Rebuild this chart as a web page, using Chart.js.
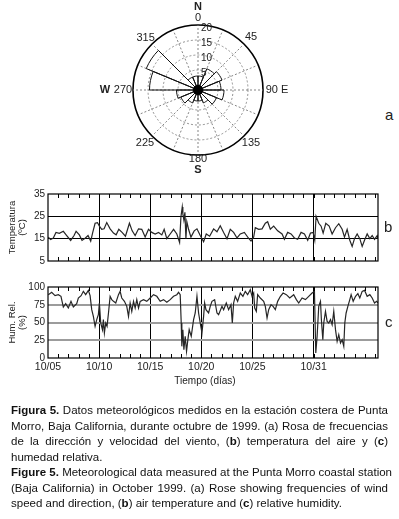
<!DOCTYPE html>
<html>
<head>
<meta charset="utf-8">
<script src="https://cdn.jsdelivr.net/npm/chart.js@4.4.0/dist/chart.umd.min.js"></script>
<style>
  html, body { margin: 0; padding: 0; background: #fff; }
  body { width: 399px; height: 519px; position: relative; overflow: hidden; font-family: 'Liberation Sans', Arial, sans-serif; color: #222; }
  canvas { position: absolute; }
  #rose { left: 90px; top: 0; }
  #temp { left: 0; top: 185px; }
  #hum { left: 0; top: 278px; }
  .tag { position: absolute; font-size: 15px; line-height: 15px; color: #222; }
  #xtitle { position: absolute; left: 150px; width: 110px; top: 375px; text-align: center; font: 10px 'Liberation Sans', sans-serif; color: #222; }
  #cap { position: absolute; left: 11px; width: 377px; top: 403px; font-size: 11.5px; line-height: 15.5px; color: #111; }
  #cap span { display: block; white-space: nowrap; }
  #cap .l { text-align: justify; text-align-last: justify; }
</style>
</head>
<body>
<canvas id="rose" width="216" height="180"></canvas>
<canvas id="temp" width="399" height="85"></canvas>
<canvas id="hum" width="399" height="100"></canvas>
<div class="tag" style="left:385px; top:107px;">a</div>
<div class="tag" style="left:384px; top:219px;">b</div>
<div class="tag" style="left:385px; top:314px;">c</div>
<div id="xtitle">Tiempo (días)</div>
<div id="cap">
  <span class="l"><b>Figura 5.</b> Datos meteorológicos medidos en la estación costera de Punta</span>
  <span class="l">Morro, Baja California, durante octubre de 1999. (a) Rosa de frecuencias</span>
  <span class="l">de la dirección y velocidad del viento, (<b>b</b>) temperatura del aire y (<b>c</b>)</span>
  <span>humedad relativa.</span>
  <span class="l"><b>Figure 5.</b> Meteorological data measured at the Punta Morro coastal station</span>
  <span class="l">(Baja California) in October 1999. (a) Rose showing frequencies of wind</span>
  <span>speed and direction, (<b>b</b>) air temperature and (<b>c</b>) relative humidity.</span>
</div>
<script>
// wind rose: 16 sectors of 22.5 deg, clockwise from north
const roseDirections = ['0', '22.5', '45', '67.5', '90', '112.5', '135', '157.5', '180', '202.5', '225', '247.5', '270', '292.5', '315', '337.5'];
const roseValues = [3, 6, 7, 6, 7, 5, 3, 2, 2, 3, 4.5, 5.5, 14.5, 17, 3, 3];
const roseRings = [5, 10, 15, 20];
const roseAxisLabels = ['0', '45', '90 E', '135', '180', '225', '270', '315'];

// time axis in days since 10/05/1999
const dayTicks = [0, 5, 10, 15, 20, 26];
const dayLabels = ['10/05', '10/10', '10/15', '10/20', '10/25', '10/31'];

const tempTicks = [5, 15, 25, 35];
const tempDays = [0.03, 0.26, 0.52, 0.78, 1.11, 1.50, 1.83, 2.22, 2.55, 2.75,
  3.07, 3.33, 3.66, 3.92, 4.18, 4.38, 4.61, 4.84, 5.03, 5.26,
  5.49, 5.75, 6.08, 6.41, 6.67, 6.93, 7.25, 7.58, 7.97, 8.24,
  8.53, 8.86, 9.18, 9.51, 9.84, 10.16, 10.49, 10.82, 11.14, 11.37,
  11.63, 11.96, 12.29, 12.61, 12.88, 13.01, 13.14, 13.20, 13.30, 13.40,
  13.50, 13.59, 13.76, 13.99, 14.31, 14.58, 14.90, 15.23, 15.49, 15.82,
  16.21, 16.54, 16.86, 17.19, 17.52, 17.84, 18.17, 18.50, 18.82, 19.22,
  19.61, 19.87, 20.13, 20.29, 20.62, 20.95, 21.27, 21.50, 21.76, 22.09,
  22.48, 22.91, 23.14, 23.46, 23.79, 24.12, 24.44, 24.77, 25.10, 25.42,
  25.69, 25.95, 26.11, 26.24, 26.50, 26.73, 26.93, 27.19, 27.52, 27.81,
  28.14, 28.46, 28.79, 29.02, 29.28, 29.54, 29.77, 30.00, 30.26, 30.52,
  30.75, 30.98, 31.24, 31.50, 31.73, 31.96, 32.22, 32.30];
const tempValues = [15.7, 14.6, 15.3, 17.8, 17.4, 18.3, 16.4, 14.2, 16.4, 18.3,
  16.7, 14.2, 15.3, 16.4, 13.9, 17.8, 21.9, 22.2, 20.6, 19.2,
  19.4, 22.2, 19.4, 17.5, 16.7, 19.2, 17.8, 16.1, 21.9, 18.5,
  16.4, 19.4, 19.2, 15.7, 19.2, 17.8, 17.1, 17.8, 16.7, 19.2,
  15.0, 17.1, 19.2, 17.1, 13.3, 24.7, 29.2, 26.1, 23.3, 26.8,
  15.0, 22.6, 19.2, 15.7, 18.5, 19.4, 16.4, 13.6, 17.1, 16.1,
  19.4, 18.1, 20.8, 17.8, 15.0, 19.2, 17.8, 15.3, 17.1, 17.8,
  15.3, 13.9, 15.7, 19.9, 19.2, 19.4, 21.9, 22.6, 19.2, 20.6,
  18.5, 17.1, 14.7, 17.8, 17.1, 15.3, 14.7, 17.8, 17.1, 14.3,
  17.5, 17.8, 14.3, 25.0, 21.9, 20.6, 17.5, 21.9, 20.6, 17.1,
  19.9, 21.7, 19.2, 15.7, 19.2, 14.3, 11.5, 15.0, 17.1, 15.0,
  11.5, 14.3, 17.1, 15.0, 16.4, 14.7, 16.4, 15.0];

const humTicks = [0, 25, 50, 75, 100];
const humDays = [0.03, 0.36, 0.69, 1.01, 1.27, 1.50, 1.73, 1.99, 2.25, 2.48,
  2.81, 2.97, 3.24, 3.46, 3.69, 3.95, 4.12, 4.28, 4.44, 4.61,
  4.77, 4.93, 5.03, 5.16, 5.33, 5.42, 5.52, 5.65, 5.78, 5.92,
  6.08, 6.24, 6.41, 6.63, 6.90, 7.06, 7.22, 7.48, 7.71, 7.88,
  8.04, 8.20, 8.37, 8.53, 8.69, 8.86, 9.02, 9.35, 9.67, 10.00,
  10.33, 10.65, 10.98, 11.31, 11.63, 11.96, 12.29, 12.61, 12.78, 12.94,
  13.04, 13.10, 13.20, 13.30, 13.43, 13.56, 13.69, 13.82, 14.02, 14.25,
  14.41, 14.58, 14.74, 14.90, 15.07, 15.23, 15.33, 15.46, 15.72, 15.88,
  16.05, 16.31, 16.54, 16.70, 17.03, 17.19, 17.45, 17.68, 17.91, 18.04,
  18.17, 18.33, 18.56, 18.82, 19.08, 19.31, 19.54, 19.80, 19.97, 20.13,
  20.23, 20.39, 20.52, 20.78, 21.11, 21.27, 21.44, 21.60, 21.83, 22.03,
  22.25, 22.48, 22.75, 23.01, 23.33, 23.66, 24.05, 24.31, 24.54, 24.87,
  25.20, 25.52, 25.85, 26.08, 26.21, 26.34, 26.50, 26.67, 26.76, 26.90,
  26.99, 27.16, 27.32, 27.48, 27.65, 27.81, 27.97, 28.14, 28.30, 28.46,
  28.63, 28.79, 28.95, 29.05, 29.18, 29.35, 29.54, 29.67, 29.87, 30.10,
  30.33, 30.52, 30.75, 30.98, 31.24, 31.50, 31.73, 31.96, 32.16, 32.30];
const humValues = [89.2, 92.5, 87.8, 89.2, 86.9, 71.8, 76.5, 70.4, 79.8, 71.8,
  76.5, 84.5, 87.8, 93.9, 89.2, 95.3, 87.8, 68.1, 58.7, 44.6,
  54.0, 61.0, 77.5, 49.3, 39.9, 54.0, 35.2, 49.3, 44.6, 63.4,
  86.9, 82.2, 79.8, 77.5, 89.2, 93.9, 84.5, 79.8, 72.8, 58.7,
  77.5, 65.7, 79.8, 70.4, 82.2, 70.4, 79.8, 82.2, 79.8, 84.5,
  89.2, 86.9, 79.8, 82.2, 78.4, 82.2, 86.9, 89.2, 92.5, 89.2,
  49.3, 16.4, 39.9, 11.7, 30.5, 9.4, 25.8, 39.9, 30.5, 54.0,
  63.4, 86.9, 63.4, 49.3, 35.2, 58.7, 77.5, 68.1, 63.4, 72.8,
  79.8, 82.2, 63.4, 61.0, 72.8, 68.1, 77.5, 68.1, 75.1, 49.3,
  77.5, 86.9, 79.8, 91.5, 86.9, 93.9, 89.2, 96.2, 86.9, 91.5,
  70.4, 65.7, 89.2, 84.5, 79.8, 72.8, 56.3, 68.1, 75.1, 72.8,
  68.1, 79.8, 86.9, 91.5, 89.2, 84.5, 89.2, 82.2, 77.5, 84.5,
  82.2, 86.9, 91.5, 93.9, 7.0, 30.5, 72.8, 79.8, 54.0, 25.8,
  49.3, 65.7, 51.6, 49.3, 54.0, 46.9, 65.7, 39.9, 23.5, 32.9,
  21.1, 25.8, 16.4, 49.3, 63.4, 72.8, 82.2, 89.2, 79.8, 86.9,
  90.6, 84.5, 93.9, 95.3, 86.9, 89.2, 84.5, 77.5, 79.8, 77.5];

const FONT = "'Liberation Sans', Arial, sans-serif";
Chart.defaults.font.family = FONT;
Chart.defaults.color = '#222';

// frame + small inward day ticks on top and bottom edges
const tsFrame = {
  id: 'tsFrame',
  afterDatasetsDraw(chart) {
    const { ctx, chartArea: a } = chart;
    const x = chart.scales.x;
    ctx.save();
    ctx.strokeStyle = '#000';
    ctx.lineWidth = 1;
    ctx.beginPath();
    for (let d = 1; d < x.max; d++) {
      const px = Math.round(x.getPixelForValue(d)) + 0.5;
      ctx.moveTo(px, a.top);
      ctx.lineTo(px, a.top + 4);
      ctx.moveTo(px, a.bottom);
      ctx.lineTo(px, a.bottom - 4);
    }
    ctx.stroke();
    ctx.lineWidth = 1.2;
    ctx.strokeRect(a.left, a.top, a.width, a.height);
    ctx.restore();
  },
};

// centre dot, ring values and compass labels of the rose
const roseDecor = {
  id: 'roseDecor',
  afterDraw(chart) {
    const { ctx } = chart;
    const s = chart.scales.r;
    ctx.save();
    ctx.fillStyle = '#000';
    ctx.beginPath();
    ctx.arc(s.xCenter, s.yCenter, 5, 0, Math.PI * 2);
    ctx.fill();

    ctx.fillStyle = '#222';
    ctx.font = '10px ' + FONT;
    ctx.textAlign = 'left';
    ctx.textBaseline = 'middle';
    roseRings.forEach((v) => {
      const y = s.yCenter - s.getDistanceFromCenterForValue(v);
      ctx.fillText(String(v), s.xCenter + 3, y + 3);
    });

    ctx.textAlign = 'center';
    ctx.font = '11px ' + FONT;
    const radii = [72, 75, 79, 75, 68.5, 75, 75, 74];
    roseAxisLabels.forEach((txt, i) => {
      const p = s.getPointPosition(i * 2, radii[i]);
      ctx.fillText(txt, p.x, p.y);
    });
    ctx.font = 'bold 11px ' + FONT;
    [['N', 0, 83], ['S', 8, 80], ['W', 12, 93]].forEach(([txt, idx, r]) => {
      const p = s.getPointPosition(idx, r);
      ctx.fillText(txt, p.x, p.y);
    });
    ctx.restore();
  },
};

new Chart(document.getElementById('rose'), {
  type: 'polarArea',
  data: {
    labels: roseDirections,
    datasets: [{
      data: roseValues,
      backgroundColor: 'rgba(0,0,0,0)',
      borderColor: '#111',
      borderWidth: 1,
    }],
  },
  options: {
    responsive: false,
    animation: false,
    layout: { padding: { left: 43, right: 43, top: 25, bottom: 25 } },
    plugins: { legend: { display: false }, tooltip: { enabled: false } },
    scales: {
      r: {
        min: -5 / 3,
        max: 20,
        afterBuildTicks: (s) => { s.ticks = roseRings.map((v) => ({ value: v })); },
        ticks: { display: false },
        pointLabels: { display: false },
        angleLines: { display: true, color: '#666', lineWidth: 0.8, borderDash: [2, 2] },
        grid: {
          circular: true,
          color: (c) => (c.tick && c.tick.value === 20 ? '#000' : '#777'),
          lineWidth: (c) => (c.tick && c.tick.value === 20 ? 1.6 : 0.8),
        },
        border: { dash: (c) => (c.tick && c.tick.value === 20 ? [] : [2, 2]) },
      },
    },
  },
  plugins: [roseDecor],
});

const buildSeriesConfig = (days, values, yTicks, yTitle, yGrid, showDates, padding, xHeight) => ({
  type: 'line',
  data: {
    datasets: [{
      data: days.map((d, i) => ({ x: d, y: values[i] })),
      borderColor: '#262626',
      borderWidth: 1.2,
      pointRadius: 0,
      tension: 0,
    }],
  },
  options: {
    responsive: false,
    animation: false,
    layout: { padding: padding },
    plugins: { legend: { display: false }, tooltip: { enabled: false } },
    scales: {
      x: {
        type: 'linear',
        min: 0,
        max: 32.3,
        afterBuildTicks: (s) => { s.ticks = dayTicks.map((v) => ({ value: v })); },
        afterFit: (s) => { s.height = xHeight; },
        ticks: {
          display: showDates,
          autoSkip: false,
          maxRotation: 0,
          padding: 3,
          font: { size: 10.5 },
          callback: (v, i) => dayLabels[i],
        },
        grid: {
          drawTicks: false,
          color: (c) => (c.tick && c.tick.value > 0 ? '#000' : 'rgba(0,0,0,0)'),
          lineWidth: 1,
        },
        border: { display: false },
      },
      y: {
        min: yTicks[0],
        max: yTicks[yTicks.length - 1],
        afterBuildTicks: (s) => { s.ticks = yTicks.map((v) => ({ value: v })); },
        afterFit: (s) => { s.width = 44; },
        ticks: { padding: 3, font: { size: 10 } },
        title: {
          display: true,
          text: yTitle,
          font: { size: 9.5, lineHeight: 1.05 },
          padding: { top: 3, bottom: 0 },
        },
        grid: {
          drawTicks: false,
          color: (c) => (c.index > 0 && c.index < yTicks.length - 1 ? yGrid.color : 'rgba(0,0,0,0)'),
          lineWidth: yGrid.width,
        },
        border: { display: false },
      },
    },
  },
  plugins: [tsFrame],
});

new Chart(document.getElementById('temp'), buildSeriesConfig(
  tempDays, tempValues, tempTicks, ['Temperatura', '(ºC)'],
  { color: '#000', width: 1 }, false,
  { left: 4, right: 21, top: 9, bottom: 7 }, 0));

new Chart(document.getElementById('hum'), buildSeriesConfig(
  humDays, humValues, humTicks, ['Hum. Rel.', '(%)'],
  { color: '#9c9c9c', width: 2 }, true,
  { left: 4, right: 21, top: 9, bottom: 0 }, 20));
</script>
</body>
</html>
